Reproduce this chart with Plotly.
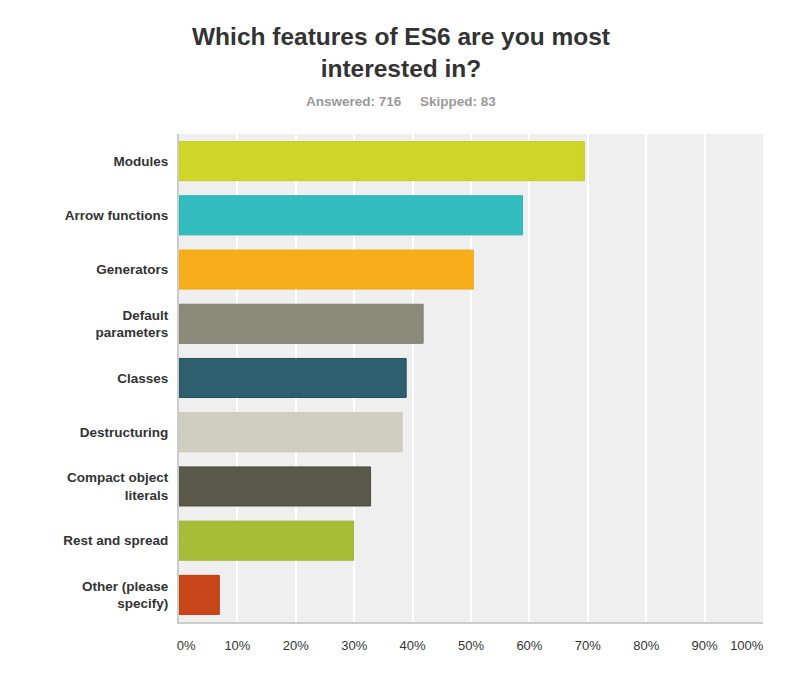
import plotly.graph_objects as go

# survey answers, top to bottom
features = [
    "Modules",
    "Arrow functions",
    "Generators",
    "Default<br>parameters",
    "Classes",
    "Destructuring",
    "Compact object<br>literals",
    "Rest and spread",
    "Other (please<br>specify)",
]
shares = [69.4, 58.8, 50.4, 41.8, 38.9, 38.2, 32.8, 29.9, 6.9]
bar_colors = [
    "#cfd628", "#33bdbf", "#f7ae1b", "#8a8b79", "#2d5f6e",
    "#d0cec0", "#5b5a4a", "#a8bd37", "#c9461b",
]
edge_colors = [
    "#c4cb1f", "#1fb3b5", "#f5a812", "#7e7f6d", "#22525f",
    "#c8c6b7", "#4a493b", "#9db22c", "#bd3c12",
]
pct_ticks = [0, 10, 20, 30, 40, 50, 60, 70, 80, 90, 100]
pct_labels = ["\u00a0" * 4 + "0%", "10%", "20%", "30%", "40%", "50%",
              "60%", "70%", "80%", "90%", "100%" + "\u00a0" * 9]

title_text = "Which features of ES6 are you most<br>interested in?"
sub_text = "Answered: 716\u00a0\u00a0\u00a0\u00a0\u00a0Skipped: 83"

# margins, in figure pixels
m_l, m_r, m_t, m_b = 171, 36, 126, 72
plot_w = 800 - m_l - m_r
plot_h = 686 - m_t - m_b

fig = go.Figure(
    go.Bar(
        x=shares,
        y=features,
        orientation="h",
        marker=dict(color=bar_colors, line=dict(color=edge_colors, width=1)),
        hoverinfo="x+y",
    )
)

title_x = (396 - m_l) / plot_w

fig.update_layout(
    width=800,
    height=686,
    paper_bgcolor="white",
    plot_bgcolor="#efefef",
    margin=dict(l=m_l, r=m_r, t=m_t, b=m_b),
    bargap=0.28,
    showlegend=False,
    font=dict(family="Liberation Sans, Arial, sans-serif", color="#333333"),
    annotations=[
        dict(
            text="<b>" + title_text + "</b>",
            x=title_x, xref="paper", xanchor="center",
            y=1 + (m_t - 13) / plot_h, yref="paper", yanchor="top",
            showarrow=False,
            font=dict(size=24.5, color="#333333"),
        ),
        dict(
            text="<b>" + sub_text + "</b>",
            x=title_x, xref="paper", xanchor="center",
            y=1 + (m_t - 84) / plot_h, yref="paper", yanchor="top",
            showarrow=False,
            font=dict(size=13.5, color="#999999"),
        ),
    ],
)

fig.update_xaxes(
    range=[0, 100],
    tickvals=pct_ticks,
    ticktext=pct_labels,
    showgrid=True,
    gridcolor="white",
    gridwidth=2,
    zeroline=False,
    showline=True,
    linecolor="#cccccc",
    linewidth=2,
    ticks="outside",
    ticklen=10,
    tickcolor="rgba(0,0,0,0)",
    tickfont=dict(size=13, color="#333333"),
    fixedrange=True,
)
fig.update_yaxes(
    autorange="reversed",
    showgrid=False,
    showline=True,
    linecolor="#cccccc",
    linewidth=2,
    ticks="outside",
    ticklen=6,
    tickcolor="rgba(0,0,0,0)",
    tickfont=dict(size=13.5, color="#333333"),
    tickprefix="<b>",
    ticksuffix="</b>",
    fixedrange=True,
)

fig.write_html("out.html")
